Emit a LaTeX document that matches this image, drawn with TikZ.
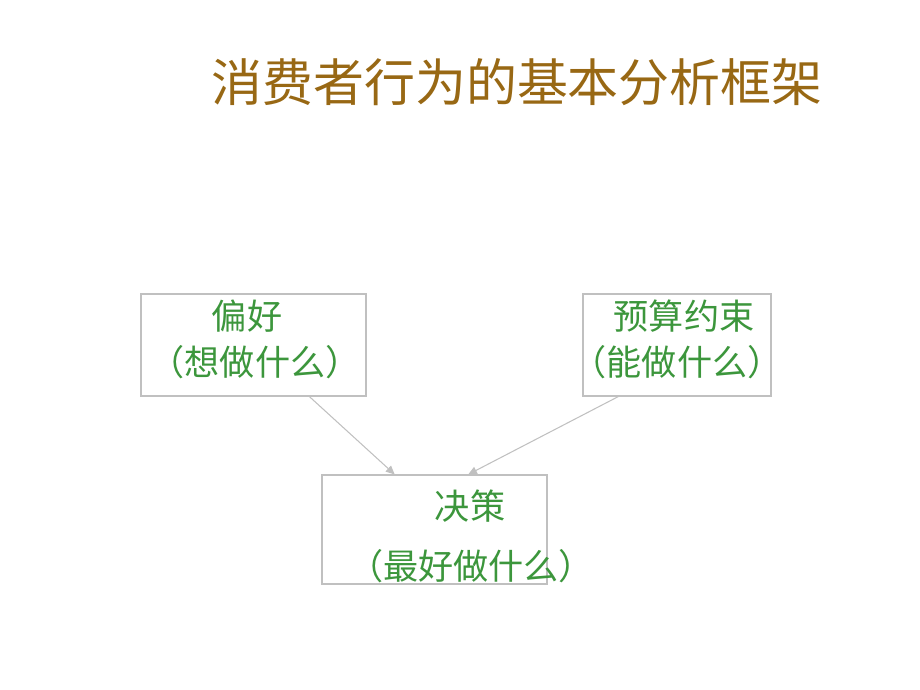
\documentclass[tikz,border=0pt]{standalone}
\usepackage{fontspec}
\setmainfont{Noto Sans CJK SC}
\usetikzlibrary{calc,arrows.meta}
\definecolor{titlebrown}{RGB}{152,104,20}
\definecolor{textgreen}{RGB}{60,150,60}
\definecolor{boxgray}{RGB}{192,192,192}
\begin{document}
\begin{tikzpicture}[x=0.02cm, y=-0.02cm,
  box/.style={draw=boxgray, line width=0.6pt, inner sep=0pt},
  greentext/.style={text=textgreen, font=\fontsize{20}{24}\selectfont, inner sep=0pt},
  arrowline/.style={draw=boxgray, line width=0.6pt, -{Triangle[length=5pt,width=4.5pt]}}]
\useasboundingbox (0,0) rectangle (920,690);
\node(title) [text=titlebrown, font=\fontsize{29}{34}\selectfont, inner sep=0pt] at (517,82) {消费者行为的基本分析框架};
% boxes
\node(pref) [box, minimum width=4.5cm, minimum height=2.04cm] at (253.5,345) {};
\node(budget) [box, minimum width=3.76cm, minimum height=2.04cm] at (677,345) {};
\node(choice) [box, minimum width=4.5cm, minimum height=2.18cm] at (434.5,529.5) {};
% texts
\node(prefname) [greentext] at (247,316) {偏好};
\node(prefnote) [greentext] at (255,362) {（想做什么）};
\node(budgetname) [greentext] at (684,316) {预算约束};
\node(budgetnote) [greentext] at (677,362) {（能做什么）};
\node(choicename) [greentext] at (470,506) {决策};
\node(choicenote) [greentext] at (471,566) {（最好做什么）};
% arrows
\draw[arrowline] ($(pref.south west)!0.747!(pref.south east)$) -- ($(choice.north west)!0.324!(choice.north east)$);
\draw[arrowline] ($(budget.south west)!0.19!(budget.south east)$) -- ($(choice.north west)!0.649!(choice.north east)$);
\end{tikzpicture}
\end{document}
